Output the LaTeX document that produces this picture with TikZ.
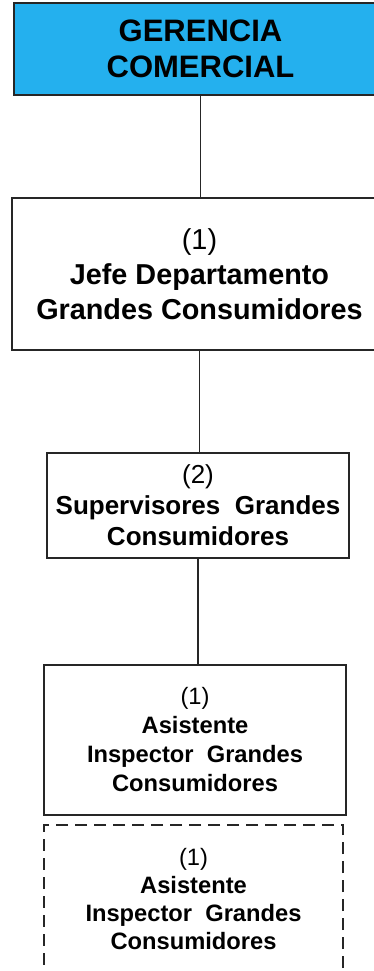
\documentclass[tikz,border=0pt]{standalone}
\usepackage{fontspec}
\setmainfont{Liberation Sans}
\usetikzlibrary{positioning}
\definecolor{GerBlue}{HTML}{24B0EE}
\definecolor{OrgDark}{HTML}{262626}
\tikzset{
  orgbox/.style={draw=OrgDark,line width=1.3pt,align=center,inner sep=0pt,fill=white,text=black},
  reservebox/.style={orgbox,dash pattern=on 12pt off 7pt},
  orglink/.style={line width=1.3pt,draw=OrgDark}
}
\begin{document}
\begin{tikzpicture}[x=1pt,y=1pt,node distance=103pt]
\useasboundingbox (0,0) rectangle (373,-971);
\node[orgbox,fill=GerBlue,minimum width=373pt,minimum height=92pt,font=\fontsize{31}{36}\selectfont\bfseries] (gerencia) at (200.5,-49) {GERENCIA\\COMERCIAL};
\node[orgbox,below=101.7pt of gerencia,xshift=-1pt,minimum width=375pt,minimum height=152pt,font=\fontsize{28.8}{35}\selectfont] (jefe) {(1)\\\textbf{Jefe Departamento}\\\textbf{Grandes Consumidores}};
\node[orgbox,below=101.7pt of jefe,xshift=-1.5pt,minimum width=302pt,minimum height=105pt,font=\fontsize{26}{31}\selectfont] (supervisor) {(2)\\\textbf{Supervisores\ \ Grandes}\\\textbf{Consumidores}};
\node[orgbox,below=105.7pt of supervisor,xshift=-3pt,minimum width=302pt,minimum height=150pt,font=\fontsize{23.7}{29}\selectfont] (asistente) {(1)\\\textbf{Asistente}\\\textbf{Inspector\ \ Grandes}\\\textbf{Consumidores}};
\node[reservebox,below=8.7pt of asistente,xshift=-1.5pt,minimum width=299pt,minimum height=148pt,font=\fontsize{23.7}{28}\selectfont] (asistenteb) {(1)\\\textbf{Asistente}\\\textbf{Inspector\ \ Grandes}\\\textbf{Consumidores}};
\draw[orglink] (gerencia.south) -- (gerencia.south |- jefe.north);
\draw[orglink] (jefe.south) -- (jefe.south |- supervisor.north);
\draw[orglink] (supervisor.south) -- (supervisor.south |- asistente.north);
\end{tikzpicture}
\end{document}
